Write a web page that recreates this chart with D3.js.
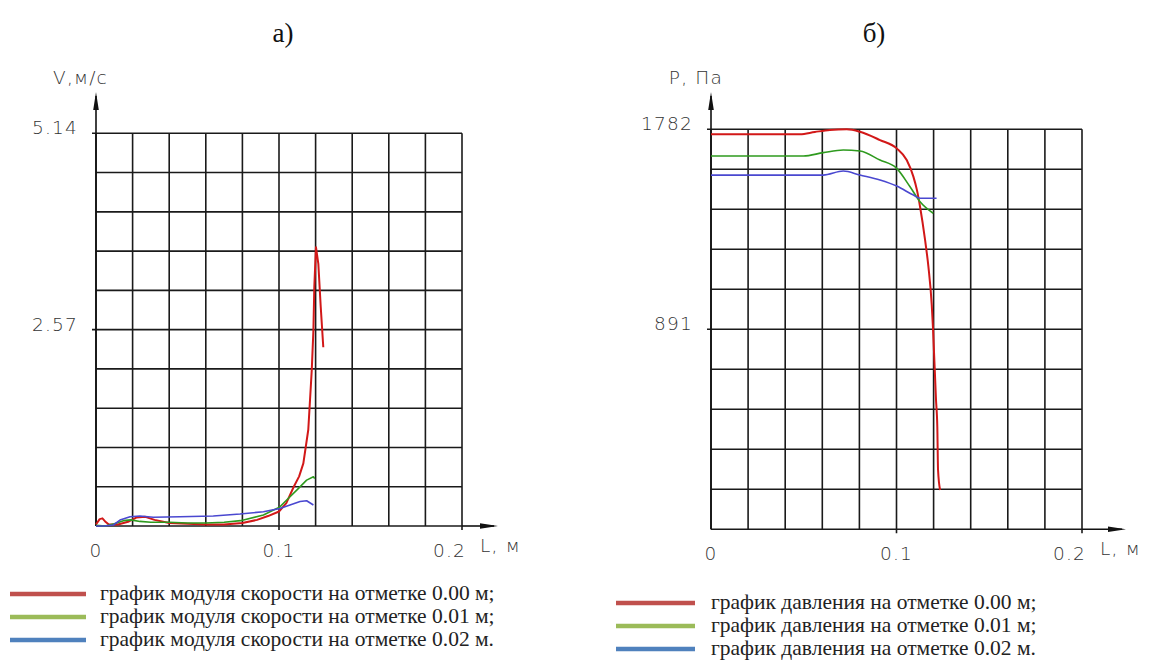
<!DOCTYPE html>
<html>
<head>
<meta charset="utf-8">
<script src="https://cdn.jsdelivr.net/npm/d3@7/dist/d3.min.js"></script>
<style>
  html, body { margin: 0; padding: 0; background: #fff; }
  svg { display: block; }
  .cad { font-family: "DejaVu Sans", sans-serif; font-weight: 200; fill: #333; font-size: 18.5px; letter-spacing: 1.2px; }
  .leg { font-family: "Liberation Serif", "Times New Roman", serif; fill: #222; font-size: 21.5px; }
  .ttl { font-family: "Liberation Serif", "Times New Roman", serif; fill: #111; font-size: 27px; }
</style>
</head>
<body>
<svg id="chart" width="1158" height="669"></svg>
<script>
// ---- data: velocity modulus V (m/s) along L (m), at three elevations ----
const vRed = [[0,0.02],[0.002,0.09],[0.0035,0.1],[0.005,0.06],[0.007,0.02],[0.012,0.02],[0.018,0.06],
  [0.022,0.11],[0.027,0.12],[0.032,0.08],[0.04,0.04],[0.05,0.03],[0.06,0.02],[0.07,0.02],[0.08,0.04],
  [0.088,0.08],[0.094,0.13],[0.1,0.19],[0.104,0.3],[0.108,0.51],[0.111,0.65],[0.1133,0.82],[0.116,1.26],
  [0.1179,2.04],[0.1188,2.56],[0.1193,3.13],[0.1202,3.65],[0.1215,3.43],[0.1228,2.87],[0.1242,2.34]];
const vGreen = [[0,0.01],[0.005,0.0],[0.01,0.03],[0.015,0.07],[0.019,0.08],[0.024,0.06],[0.03,0.05],
  [0.04,0.05],[0.05,0.04],[0.06,0.04],[0.07,0.05],[0.079,0.07],[0.0915,0.144],[0.1005,0.25],
  [0.1042,0.34],[0.1097,0.47],[0.1151,0.6],[0.1188,0.645],[0.1195,0.62]];
const vBlue = [[0,0.0],[0.0044,0.0],[0.0095,0.013],[0.0131,0.078],[0.0186,0.122],[0.024,0.131],
  [0.0313,0.114],[0.0459,0.122],[0.0641,0.131],[0.0787,0.157],[0.0915,0.187],[0.1005,0.23],
  [0.106,0.275],[0.1115,0.32],[0.1151,0.33],[0.1188,0.275]];

// ---- data: pressure P (Pa) along L (m), at three elevations ----
const pRed = [[0,1760],[0.048,1760],[0.056,1770],[0.0641,1779],[0.0732,1782],[0.0803,1771],[0.0911,1734],
  [0.1001,1697],[0.1055,1645],[0.1091,1571],[0.111,1512],[0.1127,1437],[0.1154,1289],[0.1172,1170],
  [0.119,1000],[0.1197,891],[0.1213,576],[0.122,457],[0.1224,264],[0.1235,175]];
const pGreen = [[0,1663],[0.0498,1663],[0.0605,1678],[0.0713,1690],[0.0803,1685],[0.0911,1645],
  [0.1001,1608],[0.1073,1526],[0.1127,1459],[0.1198,1408]];
const pBlue = [[0,1578],[0.0605,1578],[0.0713,1596],[0.0803,1578],[0.0911,1556],[0.1001,1529],
  [0.1091,1489],[0.1127,1475],[0.1216,1475]];

// ---- axis extents and tick labels ----
const xMax = 0.2;
const vMax = 5.14;
const pMax = 1782;
const xTickVals = [0, 0.1, 0.2];
const xTickText = ["0", "0.1", "0.2"];
const vTickVals = [2.57, 5.14];
const vTickText = ["2.57", "5.14"];
const pTickVals = [891, 1782];
const pTickText = ["891", "1782"];

const vLegend = ["график модуля скорости на отметке 0.00 м;",
                 "график модуля скорости на отметке 0.01 м;",
                 "график модуля скорости на отметке 0.02 м."];
const pLegend = ["график давления на отметке 0.00 м;",
                 "график давления на отметке 0.01 м;",
                 "график давления на отметке 0.02 м."];

const curveColors = ["#d21818", "#2e9a1e", "#4a48d0"];
const legendColors = ["#c0504d", "#9bbb59", "#4f81bd"];

const svg = d3.select("#chart");
svg.append("rect").attr("width", 1158).attr("height", 669).attr("fill", "#fff");

function panel(opt) {
  const x = d3.scaleLinear().domain([0, xMax]).range(opt.xr);
  const y = d3.scaleLinear().domain([0, opt.yMax]).range(opt.yr);
  const g = svg.append("g");
  const x0 = x(0), y0 = y(0), x1 = x(xMax), y1 = y(opt.yMax);

  // grid: 10 x 10 cells
  const xs = d3.range(11).map(i => i * xMax / 10);
  const ys = d3.range(11).map(i => i * opt.yMax / 10);
  g.selectAll("line.gx").data(xs).join("line")
    .attr("x1", d => x(d)).attr("x2", d => x(d))
    .attr("y1", y1).attr("y2", d => xTickVals.some(t => Math.abs(t - d) < 1e-9) && d > 0 ? y0 + 4 : y0)
    .attr("stroke", "#1a1a1a").attr("stroke-width", 1.6);
  g.selectAll("line.gy").data(ys).join("line")
    .attr("y1", d => y(d)).attr("y2", d => y(d))
    .attr("x1", d => opt.yTicks.some(t => Math.abs(t - d) < 1e-9) ? x0 - 4 : x0).attr("x2", x1)
    .attr("stroke", "#1a1a1a").attr("stroke-width", 1.6);

  // axes with arrow heads
  g.append("line").attr("x1", x0).attr("x2", x0).attr("y1", y0).attr("y2", opt.yArrowTip + 4)
    .attr("stroke", "#111").attr("stroke-width", 1.6);
  g.append("path")
    .attr("d", `M${x0},${opt.yArrowTip} L${x0 - 2.8},${opt.yArrowTip + 18} L${x0 + 2.8},${opt.yArrowTip + 18} Z`)
    .attr("fill", "#111");
  g.append("line").attr("x1", x1).attr("x2", opt.xArrowTip - 4).attr("y1", y0).attr("y2", y0)
    .attr("stroke", "#111").attr("stroke-width", 1.6);
  g.append("path")
    .attr("d", `M${opt.xArrowTip},${y0} L${opt.xArrowTip - 18},${y0 - 2.8} L${opt.xArrowTip - 18},${y0 + 2.8} Z`)
    .attr("fill", "#111");

  // tick labels
  g.selectAll("text.yt").data(opt.yTicks).join("text").attr("class", "cad")
    .attr("x", x0 - 18).attr("y", d => y(d) + 1).attr("text-anchor", "end")
    .text((d, i) => opt.yTickText[i]);
  g.selectAll("text.xt").data(xTickVals).join("text").attr("class", "cad")
    .attr("x", (d, i) => i === xTickVals.length - 1 ? x(d) + 4 : x(d))
    .attr("y", y0 + 31)
    .attr("text-anchor", (d, i) => i === xTickVals.length - 1 ? "end" : "middle")
    .text((d, i) => xTickText[i]);
  g.append("text").attr("class", "cad").attr("x", x1 + 18).attr("y", y0 + 26).text("L, м");
  g.append("text").attr("class", "cad").attr("x", x0 + 12).attr("y", opt.yArrowTip - 8)
    .attr("text-anchor", "end").text(opt.yName);

  // curves
  const line = d3.line().curve(opt.curve).x(d => x(d[0])).y(d => y(d[1]));
  opt.series.forEach((s, i) => {
    g.append("path").datum(s).attr("d", line).attr("fill", "none")
      .attr("stroke", curveColors[i]).attr("stroke-width", i === 0 ? 2 : 1.6)
      .attr("stroke-linejoin", "round");
  });

  // title
  svg.append("text").attr("class", "ttl").attr("x", opt.titleX).attr("y", 42)
    .attr("text-anchor", "middle").text(opt.title);

  // legend
  opt.legend.forEach((t, i) => {
    const ly = opt.legY + i * 23;
    svg.append("line").attr("x1", opt.legX[0]).attr("x2", opt.legX[1]).attr("y1", ly).attr("y2", ly)
      .attr("stroke", legendColors[i]).attr("stroke-width", 4.5);
    svg.append("text").attr("class", "leg").attr("x", opt.legX[2]).attr("y", ly + 6).text(t);
  });
}

panel({
  xr: [96, 462], yr: [526, 133.3], yMax: vMax,
  yTicks: vTickVals, yTickText: vTickText, yName: "V,м/с",
  yArrowTip: 92, xArrowTip: 498,
  series: [vRed, vGreen, vBlue], curve: d3.curveLinear,
  title: "а)", titleX: 283,
  legend: vLegend, legX: [10, 86, 100], legY: 594
});

panel({
  xr: [711, 1082], yr: [529.3, 129.3], yMax: pMax,
  yTicks: pTickVals, yTickText: pTickText, yName: "P, Па",
  yArrowTip: 92, xArrowTip: 1126,
  series: [pRed, pGreen, pBlue], curve: d3.curveMonotoneX,
  title: "б)", titleX: 874,
  legend: pLegend, legX: [616, 695, 711], legY: 603
});
</script>
</body>
</html>
